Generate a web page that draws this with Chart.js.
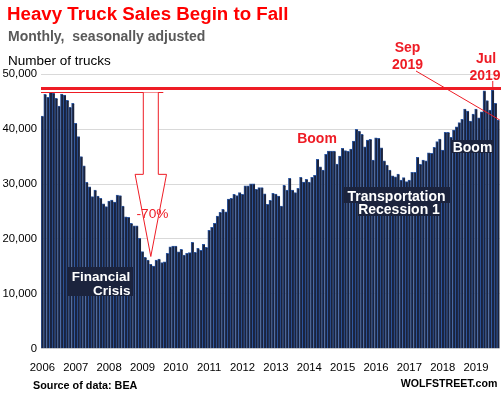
<!DOCTYPE html>
<html>
<head>
<meta charset="utf-8">
<script src="https://cdn.jsdelivr.net/npm/chart.js@4.4.1/dist/chart.umd.min.js"></script>
<style>
  html, body { margin: 0; padding: 0; background: #fff; }
  #wrap { position: relative; width: 501px; height: 394px; overflow: hidden; font-family: "Liberation Sans", Arial, sans-serif; }
  #wrap canvas { position: absolute; left: 0; top: 0; }
  .txt { position: absolute; line-height: 1; white-space: pre; }
  #title { left: 7px; top: 4.9px; font-size: 18.7px; font-weight: bold; color: #ff0000; }
  #sub { left: 8px; top: 28.9px; font-size: 14px; font-weight: bold; color: #595959; }
  #unit { left: 8px; top: 53.6px; font-size: 13.5px; color: #000; }
  #source { left: 33px; top: 380.2px; font-size: 10.8px; font-weight: bold; color: #000; }
  #brand { right: 3.7px; top: 378px; font-size: 10.6px; font-weight: bold; color: #000; }
</style>
</head>
<body>
<div id="wrap">
  <canvas id="chart" width="501" height="394"></canvas>
  <div class="txt" id="title">Heavy Truck Sales Begin to Fall</div>
  <div class="txt" id="sub">Monthly,  seasonally adjusted</div>
  <div class="txt" id="unit">Number of trucks</div>
  <div class="txt" id="source">Source of data: BEA</div>
  <div class="txt" id="brand">WOLFSTREET.com</div>
</div>
<script>
// monthly heavy truck sales, seasonally adjusted
const years = [2006, 2007, 2008, 2009, 2010, 2011, 2012, 2013, 2014, 2015, 2016, 2017, 2018, 2019];
const months = ["Jan","Feb","Mar","Apr","May","Jun","Jul","Aug","Sep","Oct","Nov","Dec"];

const sales2006 = [42400, 46350, 45800, 46700, 46600, 45600, 44200, 46400, 46200, 45250, 44000, 44700];
const sales2007 = [41070, 38630, 35000, 33340, 30300, 29500, 27700, 28900, 27800, 27400, 26400, 25900];
const sales2008 = [26900, 27100, 26700, 28000, 27900, 26000, 24050, 23940, 22850, 22400, 22400, 20100];
const sales2009 = [17700, 16650, 16160, 15380, 15070, 16160, 16350, 15670, 15850, 17380, 18580, 18710];
const sales2010 = [18710, 17670, 18110, 17070, 17380, 17500, 19380, 17570, 18290, 17930, 19020, 18470];
const sales2011 = [21570, 22120, 22850, 24180, 24850, 25400, 24960, 27280, 27400, 28130, 27880, 28430];
const sales2012 = [28130, 29700, 29700, 30060, 30060, 29040, 29340, 29340, 28240, 26300, 27040, 28310];
const sales2013 = [28190, 27820, 26000, 29770, 28920, 31050, 28920, 28430, 29220, 31230, 30370, 30860];
const sales2014 = [30370, 31230, 31590, 34510, 33160, 32560, 35420, 36020, 36020, 36020, 33650, 35110];
const sales2015 = [36510, 36080, 35960, 36380, 37840, 39970, 39660, 39060, 36800, 38020, 38140, 34380];
const sales2016 = [38440, 38320, 36600, 34250, 33470, 32560, 31520, 31340, 31830, 30740, 31160, 30430];
const sales2017 = [30740, 32140, 32140, 34870, 33600, 34380, 34250, 35700, 35600, 36690, 37720, 38210];
const sales2018 = [36200, 39430, 39430, 38520, 39850, 40450, 41180, 41790, 43670, 43310, 41490, 42760];
const sales2019 = [43670, 42090, 43180, 47000, 45190, 43490, 47140, 44710, 41670];

const yTicks = [0, 10000, 20000, 30000, 40000, 50000];

// annotation levels
const peakLine = 47400;       // thick red line
const dropFrom = 46700;       // 2006 peak, top of the arrow
const dropShaftEnd = 31770;
const dropTip = 16800;
const dropAt = 39;            // month index under the arrow

const sales = [].concat(sales2006, sales2007, sales2008, sales2009, sales2010, sales2011, sales2012,
  sales2013, sales2014, sales2015, sales2016, sales2017, sales2018, sales2019);
const labels = sales.map((_, i) => months[i % 12] + " " + years[Math.floor(i / 12)]);

const FONT = '"Liberation Sans", Arial, sans-serif';
const RED = "#ee1c25";
const BOX = "#1b233d";

function line(ctx, x1, y1, x2, y2){
  ctx.beginPath();
  ctx.moveTo(x1, y1);
  ctx.lineTo(x2, y2);
  ctx.stroke();
}

function label(ctx, text, x, y, size, color, align, box){
  ctx.font = `bold ${size}px ${FONT}`;
  ctx.textAlign = align || "center";
  ctx.textBaseline = "alphabetic";
  if (box) {
    ctx.fillStyle = BOX;
    ctx.fillRect(box[0], box[1], box[2] - box[0], box[3] - box[1]);
  }
  ctx.fillStyle = color;
  ctx.fillText(text, x, y);
}

const notes = {
  id: "notes",
  afterDatasetsDraw(chart){
    const { ctx, chartArea, scales: { x, y } } = chart;
    ctx.save();

    // peak level line
    ctx.strokeStyle = RED;
    ctx.lineWidth = 3;
    line(ctx, chartArea.left, y.getPixelForValue(peakLine), chart.width, y.getPixelForValue(peakLine));

    // -70% arrow
    const cx = x.getPixelForValue(dropAt);
    const y0 = Math.round(y.getPixelForValue(dropFrom)) + 0.5;
    const y1 = y.getPixelForValue(dropShaftEnd);
    const y2 = y.getPixelForValue(dropTip);
    ctx.lineWidth = 1;
    line(ctx, chartArea.left, y0, cx + 12.5, y0);
    ctx.beginPath();
    ctx.moveTo(cx - 7.5, y0);
    ctx.lineTo(cx - 7.5, y1);
    ctx.lineTo(cx - 15.7, y1);
    ctx.lineTo(cx, y2);
    ctx.lineTo(cx + 15.7, y1);
    ctx.lineTo(cx + 7.5, y1);
    ctx.lineTo(cx + 7.5, y0);
    ctx.fillStyle = "#fff";
    ctx.fill();
    ctx.stroke();
    ctx.font = `13.7px ${FONT}`;
    ctx.textAlign = "center";
    ctx.fillStyle = RED;
    ctx.fillText("-70%", cx + 1.7, 218);

    // Sep 2019 pointer and Jul 2019 tick
    const last = sales.length - 1;
    line(ctx, 416, 71, x.getPixelForValue(last) + 1.4, y.getPixelForValue(sales[last]));
    const jul = x.getPixelForValue(162);
    line(ctx, jul, 81, jul, 87);

    label(ctx, "Boom", 317, 142.5, 14, RED);
    label(ctx, "Sep", 407.5, 52, 14, RED);
    label(ctx, "2019", 407.5, 68.5, 14, RED);
    label(ctx, "Jul", 486, 62.5, 14, RED);
    label(ctx, "2019", 485, 80, 14, RED);

    label(ctx, "Financial", 71.7, 280.5, 13.5, "#fff", "left", [68, 267, 133, 296]);
    label(ctx, "Crisis", 130.5, 294.5, 13.5, "#fff", "right");
    label(ctx, "Transportation", 396.5, 200.5, 14, "#fff", "center", [344, 187, 450, 203]);
    label(ctx, "Recession 1", 399, 214, 14, "#fff", "center", [358, 203, 440, 216]);
    label(ctx, "Boom", 472.5, 151.7, 14, "#fff", "center", [451.7, 140, 494, 153]);

    ctx.restore();
  }
};

new Chart(document.getElementById("chart"), {
  type: "bar",
  data: {
    labels,
    datasets: [{
      data: sales,
      backgroundColor: "#1a233d",
      borderColor: "#2d569f",
      borderWidth: { left: 1, top: 1, right: 0, bottom: 0 },
      borderSkipped: false,
      categoryPercentage: 1,
      barPercentage: 1
    }]
  },
  options: {
    responsive: false,
    animation: false,
    layout: { padding: { top: 74.3, left: 0, right: 1.3, bottom: 0 } },
    plugins: { legend: { display: false }, tooltip: { enabled: false } },
    scales: {
      x: {
        grid: { display: false },
        border: { display: false },
        ticks: {
          autoSkip: false,
          maxRotation: 0,
          padding: 4,
          color: "#000",
          font: { family: FONT, size: 11.3 },
          callback: (v, i) => (i % 12 === 0 ? String(years[i / 12]) : null)
        },
        afterFit(s){ s.height = 45.3; }
      },
      y: {
        min: yTicks[0],
        max: yTicks[yTicks.length - 1],
        grid: { color: "#d9d9d9", drawTicks: false },
        border: { display: false },
        ticks: {
          stepSize: yTicks[1] - yTicks[0],
          padding: 4,
          color: "#000",
          font: { family: FONT, size: 11.3 },
          callback: v => v.toLocaleString("en-US")
        },
        afterFit(s){ s.width = 41; }
      }
    }
  },
  plugins: [notes]
});
</script>
</body>
</html>
